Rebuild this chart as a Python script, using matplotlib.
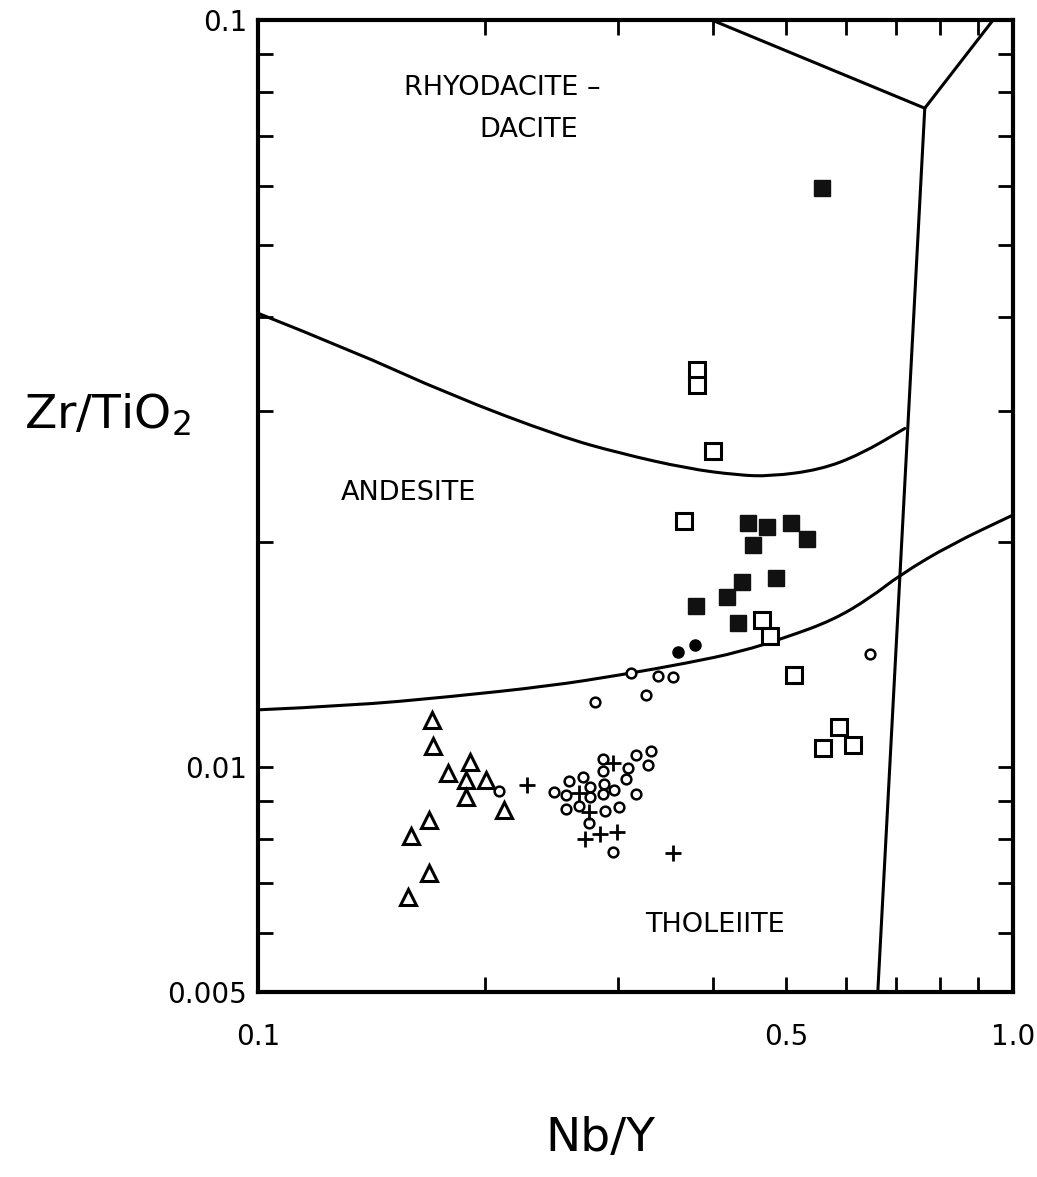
import matplotlib
matplotlib.use("Agg")
import matplotlib.pyplot as plt
import numpy as np
from matplotlib.path import Path
from matplotlib.patches import PathPatch
from matplotlib.ticker import FixedLocator, NullFormatter

plt.rcParams['font.family'] = ['DejaVu Sans']

# Nb/Y , Zr/TiO2 -arvot, luettu kuvaajasta
kolmio_x = [0.170, 0.1705, 0.1909, 0.1785, 0.1886, 0.2004, 0.1886, 0.2117, 0.1684, 0.1594, 0.1684, 0.158]
kolmio_y = [0.01156, 0.01067, 0.01016, 0.00982, 0.00961, 0.00961, 0.00912, 0.00876, 0.00849, 0.00809, 0.00722, 0.0067]

ympyra_x = [0.3119, 0.3387, 0.3546, 0.3265, 0.2795, 0.6465, 0.2086, 0.2466, 0.2559, 0.2582,
            0.2695, 0.2753, 0.2753, 0.2662, 0.2559, 0.2864, 0.2864, 0.2872, 0.2864, 0.2961,
            0.2881, 0.2745, 0.3006, 0.3072, 0.3091, 0.3167, 0.3286, 0.3316, 0.3167, 0.2953]
ympyra_y = [0.01337, 0.01324, 0.0132, 0.01249, 0.01222, 0.01417, 0.00929, 0.00926, 0.00918, 0.00958,
            0.0097, 0.0094, 0.00912, 0.00887, 0.00879, 0.01025, 0.00988, 0.00949, 0.0092, 0.00932,
            0.00873, 0.00842, 0.00884, 0.00964, 0.00997, 0.01038, 0.01006, 0.01051, 0.0092, 0.0077]

risti_x = [0.2272, 0.2662, 0.2953, 0.2745, 0.2711, 0.2838, 0.2988, 0.3546]
risti_y = [0.00946, 0.00923, 0.01013, 0.0087, 0.00801, 0.00813, 0.00818, 0.00767]

tayspallo_x = [0.36, 0.3793]
tayspallo_y = [0.01426, 0.01457]

tayspala_x = [0.5585, 0.4457, 0.4722, 0.5082, 0.5336, 0.4525, 0.4377, 0.4855, 0.4182, 0.3802, 0.4324]
tayspala_y = [0.0596, 0.02122, 0.02096, 0.02122, 0.0202, 0.01983, 0.0177, 0.01791, 0.0169, 0.01643, 0.01559]

nelio_x = [0.3666, 0.4649, 0.4765, 0.5128, 0.3815, 0.3815, 0.4005, 0.5884, 0.5603, 0.614]
nelio_y = [0.02135, 0.01573, 0.01497, 0.01328, 0.034, 0.03246, 0.02649, 0.01132, 0.0106, 0.0107]

# Kenttien rajat
ylaraja_x = [0.1, 0.1324, 0.1795, 0.2512, 0.3017, 0.3701, 0.431, 0.4766, 0.555, 0.6271, 0.719]
ylaraja_y = [0.0405, 0.0362, 0.0315, 0.0277, 0.0263, 0.0251, 0.0246, 0.0245, 0.025, 0.0262, 0.0284]

alaraja_x = [0.1, 0.1324, 0.1795, 0.2436, 0.3017, 0.3701, 0.435, 0.502, 0.5775, 0.6465, 0.7077, 0.825, 1.0]
alaraja_y = [0.01193, 0.01208, 0.01242, 0.01284, 0.01328, 0.01378, 0.01426, 0.01493, 0.01573, 0.01684, 0.01807, 0.01983, 0.02175]

pystyraja_x = [0.662, 0.764]
pystyraja_y = [0.005, 0.0762]
vasen_vino_x = [0.399, 0.764]
vasen_vino_y = [0.1, 0.0762]
oikea_vino_x = [0.764, 0.941]
oikea_vino_y = [0.0762, 0.1]

x_merkit = [0.1, 0.5, 1.0]
x_tekstit = ['0.1', '0.5', '1.0']
x_pienet = [0.2, 0.3, 0.4, 0.6, 0.7, 0.8, 0.9]
y_merkit = [0.005, 0.01, 0.1]
y_tekstit = ['0.005', '0.01', '0.1']
y_pienet = [0.006, 0.007, 0.008, 0.009, 0.02, 0.03, 0.04, 0.05, 0.06, 0.07, 0.08, 0.09]


def pehmea_kayra(xs, ys):
    # Toisen asteen Bezier-paloja pisteiden kautta, keskipisteet log-asteikolla
    p = np.column_stack([xs, ys])
    verts = [p[0]]
    codes = [Path.MOVETO]
    for i in range(1, len(p) - 1):
        keski = np.sqrt(p[i] * p[i + 1])
        verts += [p[i], keski]
        codes += [Path.CURVE3, Path.CURVE3]
    verts.append(p[-1])
    codes.append(Path.LINETO)
    return PathPatch(Path(verts, codes), fill=False, lw=2.2, ec='black', capstyle='round')


fig = plt.figure(figsize=(10.37, 11.77), dpi=100)
ax = fig.add_axes([0.2488, 0.1572, 0.7281, 0.8258])
ax.set_xscale('log')
ax.set_yscale('log')
ax.set_xlim(0.1, 1.0)
ax.set_ylim(0.005, 0.1)

viiva = dict(color='black', lw=2.2, solid_capstyle='round')
ax.add_patch(pehmea_kayra(ylaraja_x, ylaraja_y))
ax.add_patch(pehmea_kayra(alaraja_x, alaraja_y))
ax.plot(pystyraja_x, pystyraja_y, **viiva)
ax.plot(vasen_vino_x, vasen_vino_y, **viiva)
ax.plot(oikea_vino_x, oikea_vino_y, **viiva)

ax.plot(kolmio_x, kolmio_y, '^', ms=11, mfc='white', mec='black', mew=2.2, ls='none')
ax.plot(ympyra_x, ympyra_y, 'o', ms=7, mfc='white', mec='black', mew=1.8, ls='none')
ax.plot(risti_x, risti_y, '+', ms=12, mec='black', mew=2, ls='none')
ax.plot(tayspallo_x, tayspallo_y, 'o', ms=8, color='black', ls='none')
ax.plot(tayspala_x, tayspala_y, 's', ms=11.5, color='#111111', ls='none')
ax.plot(nelio_x, nelio_y, 's', ms=11, mfc='white', mec='black', mew=2.2, ls='none')

# Akselit ja merkinnät
for s in ax.spines.values():
    s.set_linewidth(3)
ax.xaxis.set_major_locator(FixedLocator(x_merkit))
ax.xaxis.set_minor_locator(FixedLocator(x_pienet))
ax.set_xticklabels(x_tekstit)
ax.xaxis.set_minor_formatter(NullFormatter())
ax.yaxis.set_major_locator(FixedLocator(y_merkit))
ax.yaxis.set_minor_locator(FixedLocator(y_pienet))
ax.set_yticklabels(y_tekstit)
ax.yaxis.set_minor_formatter(NullFormatter())
ax.tick_params(which='both', direction='in', length=11, width=2, top=True, right=True)
ax.tick_params(axis='x', which='major', pad=22, labelsize=20)
ax.tick_params(axis='y', which='major', pad=8, labelsize=20)

ax.text(0.323, 0.930, 'RHYODACITE –', transform=ax.transAxes, ha='center', va='center', fontsize=19.5)
ax.text(0.358, 0.887, 'DACITE', transform=ax.transAxes, ha='center', va='center', fontsize=19.5)
ax.text(0.199, 0.513, 'ANDESITE', transform=ax.transAxes, ha='center', va='center', fontsize=19.5)
ax.text(0.605, 0.069, 'THOLEIITE', transform=ax.transAxes, ha='center', va='center', fontsize=19.5)

fig.text(0.104, 0.647, 'Zr/TiO$_2$', ha='center', va='center', fontsize=34)
fig.text(0.579, 0.033, 'Nb/Y', ha='center', va='center', fontsize=34)

fig.savefig('out.png', dpi=100)
